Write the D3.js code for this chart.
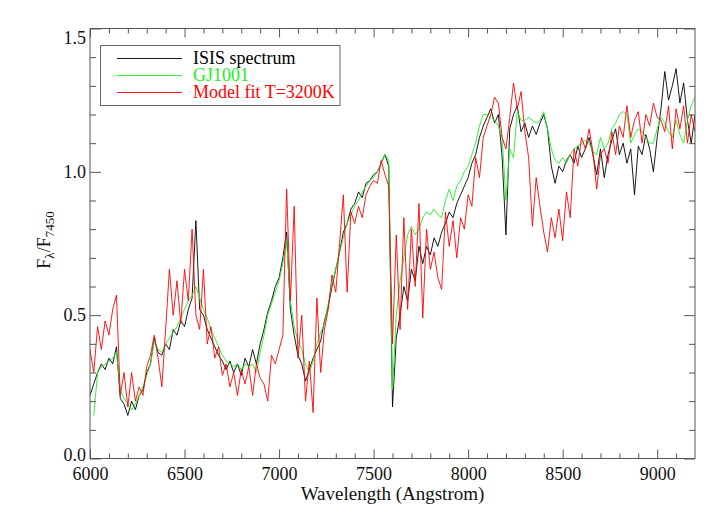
<!DOCTYPE html>
<html>

<head>
    <meta charset="UTF-8">
    <title>spectrum</title>
    <script src="https://d3js.org/d3.v7.min.js"></script>
    <style>
        body { margin: 0; background: #fff; }
        text { font-family: "Liberation Serif", "DejaVu Serif", serif; }
    </style>
</head>

<body>
    <svg id="chart"></svg>
    <script>
        // -------------data-------------
        var wavelength = [
            6000, 6020, 6040, 6060, 6080, 6100, 6120, 6140, 6160, 6180,
            6200, 6220, 6240, 6260, 6280, 6300, 6320, 6340, 6360, 6380,
            6400, 6420, 6440, 6460, 6480, 6500, 6520, 6540, 6560, 6580,
            6600, 6620, 6640, 6660, 6680, 6700, 6720, 6740, 6760, 6780,
            6800, 6820, 6840, 6860, 6880, 6900, 6920, 6940, 6960, 6980,
            7000, 7020, 7040, 7060, 7080, 7100, 7120, 7140, 7160, 7180,
            7200, 7220, 7240, 7260, 7280, 7300, 7320, 7340, 7360, 7380,
            7400, 7420, 7440, 7460, 7480, 7500, 7520, 7540, 7560, 7580,
            7600, 7620, 7640, 7660, 7680, 7700, 7720, 7740, 7760, 7780,
            7800, 7820, 7840, 7860, 7880, 7900, 7920, 7940, 7960, 7980,
            8000, 8020, 8040, 8060, 8080, 8100, 8120, 8140, 8160, 8180,
            8200, 8220, 8240, 8260, 8280, 8300, 8320, 8340, 8360, 8380,
            8400, 8420, 8440, 8460, 8480, 8500, 8520, 8540, 8560, 8580,
            8600, 8620, 8640, 8660, 8680, 8700, 8720, 8740, 8760, 8780,
            8800, 8820, 8840, 8860, 8880, 8900, 8920, 8940, 8960, 8980,
            9000, 9020, 9040, 9060, 9080, 9100, 9120, 9140, 9160, 9180,
            9200
        ];

        // ISIS spectrum (black)
        var isis = [
            .22, .26, .30, .33, .31, .35, .33, .39, .21, .19,
            .15, .20, .17, .22, .24, .30, .33, .42, .37, .36,
            .40, .38, .45, .43, .48, .46, .52, .56, .83, .52,
            .50, .45, .42, .39, .36, .34, .31, .34, .30, .33,
            .29, .35, .32, .38, .33, .40, .45, .51, .55, .60,
            .63, .70, .79, .52, .43, .36, .33, .27, .31, .35,
            .38, .41, .48, .53, .60, .66, .72, .79, .82, .87,
            .89, .93, .91, .96, .97, .99, 1.00, 1.03, 1.06, 1.02,
            .18, .42, .50, .60, .55, .66, .62, .74, .68, .74,
            .71, .77, .74, .79, .82, .86, .84, .89, .92, .95,
            .98, 1.03, 1.06, 1.12, 1.16, 1.19, 1.22, 1.17, 1.20, 1.05,
            .78, 1.15, 1.20, 1.23, 1.14, 1.17, 1.12, 1.16, 1.13, 1.17,
            1.20, 1.15, 1.02, .96, 1.02, 1.00, 1.04, 1.06, 1.03, 1.09,
            1.05, 1.08, 1.12, 1.06, .99, 1.08, .98, 1.06, 1.11, 1.15,
            1.06, 1.10, 1.03, 1.08, .92, 1.09, 1.06, 1.13, 1.08, 1.00,
            1.12, 1.22, 1.35, 1.25, 1.30, 1.36, 1.24, 1.31, 1.18, 1.10,
            1.20
        ];

        // GJ1001 (green)
        var gj1001 = [
            null, .15, .30, .32, .33, .34, .35, .37, .24, .21,
            .19, .17, .19, .22, .25, .29, .33, .41, .38, .37,
            .40, .42, .44, .46, .49, .52, .55, .57, .60, .56,
            .52, .49, .45, .42, .39, .36, .34, .33, .32, .33,
            .31, .33, .32, .33, .30, .37, .43, .50, .54, .58,
            .62, .68, .76, .55, .46, .41, .38, .33, .30, .34,
            .40, .44, .47, .54, .61, .66, .72, .77, .82, .85,
            .88, .90, .93, .95, .97, .98, 1.00, 1.03, 1.06, 1.04,
            .24, .50, .62, .70, .78, .81, .78, .80, .84, .86,
            .85, .87, .85, .84, .90, .94, .90, .95, .97, 1.00,
            1.02, 1.06, 1.10, 1.16, 1.20, 1.20, 1.19, 1.18, 1.16, 1.12,
            .90, 1.08, 1.05, 1.21, 1.18, 1.18, 1.19, 1.18, 1.17, 1.18,
            1.21, 1.15, 1.08, 1.04, 1.03, 1.05, 1.03, 1.06, 1.08, 1.09,
            1.10, 1.11, 1.10, 1.07, 1.06, 1.12, 1.08, 1.10, 1.15, 1.17,
            1.20, 1.21, 1.20, 1.10, 1.13, 1.15, 1.14, 1.12, 1.10, 1.10,
            1.15, 1.19, 1.17, 1.14, 1.12, 1.18, 1.13, 1.10, 1.18, 1.23,
            1.26
        ];

        // Model fit T=3200K (red)
        var model = [
            .38, .30, .46, .38, .48, .43, .52, .57, .22, .30,
            .18, .30, .20, .25, .22, .32, .36, .43, .35, .25,
            .45, .66, .50, .62, .47, .66, .55, .80, .50, .45,
            .66, .40, .46, .35, .39, .29, .33, .25, .30, .22,
            .31, .26, .32, .22, .33, .28, .26, .20, .36, .33,
            .38, .43, .94, .55, .88, .35, .50, .20, .34, .16,
            .56, .30, .45, .52, .64, .58, .75, .92, .58, .86,
            .82, .88, .84, .92, .95, .97, .96, 1.04, .99, .95,
            .40, .78, .45, .84, .52, .80, .60, .89, .49, .80,
            .66, .72, .63, .59, .86, .74, .83, .70, .84, .80,
            .92, .88, 1.05, .98, 1.12, 1.16, 1.20, 1.26, 1.24, 1.12,
            1.08, 1.19, 1.31, 1.22, 1.28, 1.14, 1.05, .81, .98, .88,
            .79, .72, .84, .77, .87, .76, .93, .84, 1.08, 1.02,
            1.12, 1.08, 1.15, 1.07, .94, 1.06, 1.08, 1.03, 1.14, 1.06,
            1.16, 1.12, 1.23, 1.12, 1.18, 1.21, 1.10, 1.20, 1.16, 1.24,
            1.19, 1.18, 1.14, 1.23, 1.08, 1.22, 1.15, 1.23, 1.10, 1.20,
            1.14
        ];

        var xMajor = [6000, 6500, 7000, 7500, 8000, 8500, 9000];
        var xMinor = [6100, 6200, 6300, 6400, 6600, 6700, 6800, 6900, 7100, 7200, 7300, 7400,
            7600, 7700, 7800, 7900, 8100, 8200, 8300, 8400, 8600, 8700, 8800, 8900, 9100];
        var yMajor = [0.0, 0.5, 1.0, 1.5];
        var yMinor = [0.1, 0.2, 0.3, 0.4, 0.6, 0.7, 0.8, 0.9, 1.1, 1.2, 1.3, 1.4];

        var seriesNames = ["ISIS spectrum", "GJ1001", "Model fit T=3200K"];
        var seriesColors = ["#000000", "#22ee22", "#ff0000"];
        var seriesData = [isis, gj1001, model];

        // -------------layout-------------
        var W = 723, H = 516;
        var pL = 90, pR = 695, pT = 28.5, pB = 458.5;
        var axisColor = "#555";

        var svg = d3.select("#chart")
            .attr("width", W)
            .attr("height", H);

        var x = d3.scaleLinear().domain([6000, 9200]).range([pL, pR]);
        var y = d3.scaleLinear().domain([0, 1.5]).range([pB, pT]);

        svg.append("clipPath").attr("id", "clip")
            .append("rect")
            .attr("x", pL).attr("y", pT)
            .attr("width", pR - pL).attr("height", pB - pT);

        // -------------spectra-------------
        var line = d3.line()
            .defined(function(d) { return d[1] != null; })
            .x(function(d) { return x(d[0]); })
            .y(function(d) { return y(d[1]); });

        for (var s = 0; s < seriesData.length; s++) {
            var pts = wavelength.map(function(w, i) { return [w, seriesData[s][i]]; });
            svg.append("path")
                .attr("clip-path", "url(#clip)")
                .attr("d", line(pts))
                .attr("fill", "none")
                .attr("stroke", seriesColors[s])
                .attr("stroke-width", 0.9)
                .attr("stroke-linejoin", "round");
        }

        // -------------axes (ticks inward on all four sides)-------------
        function styleAxis(g) {
            g.select(".domain").remove();
            g.selectAll("line").attr("stroke", axisColor);
            g.selectAll("text").attr("fill", "#111").style("font-size", "18px")
                .style("font-family", '"Liberation Serif", "DejaVu Serif", serif');
        }

        svg.append("g").attr("transform", "translate(0," + pB + ")")
            .call(d3.axisBottom(x).tickValues(xMajor).tickSize(-9).tickSizeOuter(0).tickPadding(9)
                .tickFormat(d3.format("d")))
            .call(styleAxis);
        svg.append("g").attr("transform", "translate(0," + pB + ")")
            .call(d3.axisBottom(x).tickValues(xMinor).tickSize(-5).tickSizeOuter(0).tickFormat(""))
            .call(styleAxis);
        svg.append("g").attr("transform", "translate(0," + pT + ")")
            .call(d3.axisTop(x).tickValues(xMajor).tickSize(-9).tickSizeOuter(0).tickFormat(""))
            .call(styleAxis);
        svg.append("g").attr("transform", "translate(0," + pT + ")")
            .call(d3.axisTop(x).tickValues(xMinor).tickSize(-5).tickSizeOuter(0).tickFormat(""))
            .call(styleAxis);

        var yAxisG = svg.append("g").attr("transform", "translate(" + pL + ",0)")
            .call(d3.axisLeft(y).tickValues(yMajor).tickSize(-11).tickSizeOuter(0).tickPadding(4)
                .tickFormat(d3.format(".1f")))
            .call(styleAxis);
        // end labels are pulled inside the axis range, like the original plot
        yAxisG.selectAll(".tick text")
            .attr("dy", function(d) { return d === 1.5 ? "0.85em" : (d === 0 ? "0.1em" : "0.32em"); });
        svg.append("g").attr("transform", "translate(" + pL + ",0)")
            .call(d3.axisLeft(y).tickValues(yMinor).tickSize(-6).tickSizeOuter(0).tickFormat(""))
            .call(styleAxis);
        svg.append("g").attr("transform", "translate(" + pR + ",0)")
            .call(d3.axisRight(y).tickValues(yMajor).tickSize(-11).tickSizeOuter(0).tickFormat(""))
            .call(styleAxis);
        svg.append("g").attr("transform", "translate(" + pR + ",0)")
            .call(d3.axisRight(y).tickValues(yMinor).tickSize(-6).tickSizeOuter(0).tickFormat(""))
            .call(styleAxis);

        // frame
        svg.append("rect")
            .attr("x", pL).attr("y", pT)
            .attr("width", pR - pL).attr("height", pB - pT)
            .attr("fill", "none")
            .attr("stroke", axisColor)
            .attr("stroke-width", 1);

        // -------------axis titles-------------
        svg.append("text")
            .attr("x", (pL + pR) / 2)
            .attr("y", 500)
            .attr("text-anchor", "middle")
            .style("font-size", "19px")
            .attr("fill", "#111")
            .text("Wavelength (Angstrom)");

        var ylab = svg.append("text")
            .attr("transform", "translate(50,240) rotate(-90)")
            .attr("text-anchor", "middle")
            .style("font-size", "18px")
            .attr("fill", "#111");
        ylab.append("tspan").text("F");
        ylab.append("tspan").attr("dy", 4).style("font-size", "13px").text("λ");
        ylab.append("tspan").attr("dy", -4).text("/F");
        ylab.append("tspan").attr("dy", 4).style("font-size", "13px").text("7450");

        // -------------legend-------------
        svg.append("rect")
            .attr("x", 100.5).attr("y", 45.5)
            .attr("width", 239.5).attr("height", 60)
            .attr("fill", "#fff")
            .attr("stroke", "#666")
            .attr("stroke-width", 1);

        for (var k = 0; k < seriesNames.length; k++) {
            var ly = 58.5 + k * 17;
            svg.append("line")
                .attr("x1", 117).attr("x2", 182)
                .attr("y1", ly).attr("y2", ly)
                .attr("stroke", seriesColors[k])
                .attr("stroke-width", 0.9);
            svg.append("text")
                .attr("x", 193)
                .attr("y", ly + 5.5)
                .style("font-size", "18px")
                .attr("fill", seriesColors[k])
                .text(seriesNames[k]);
        }
    </script>
</body>

</html>
